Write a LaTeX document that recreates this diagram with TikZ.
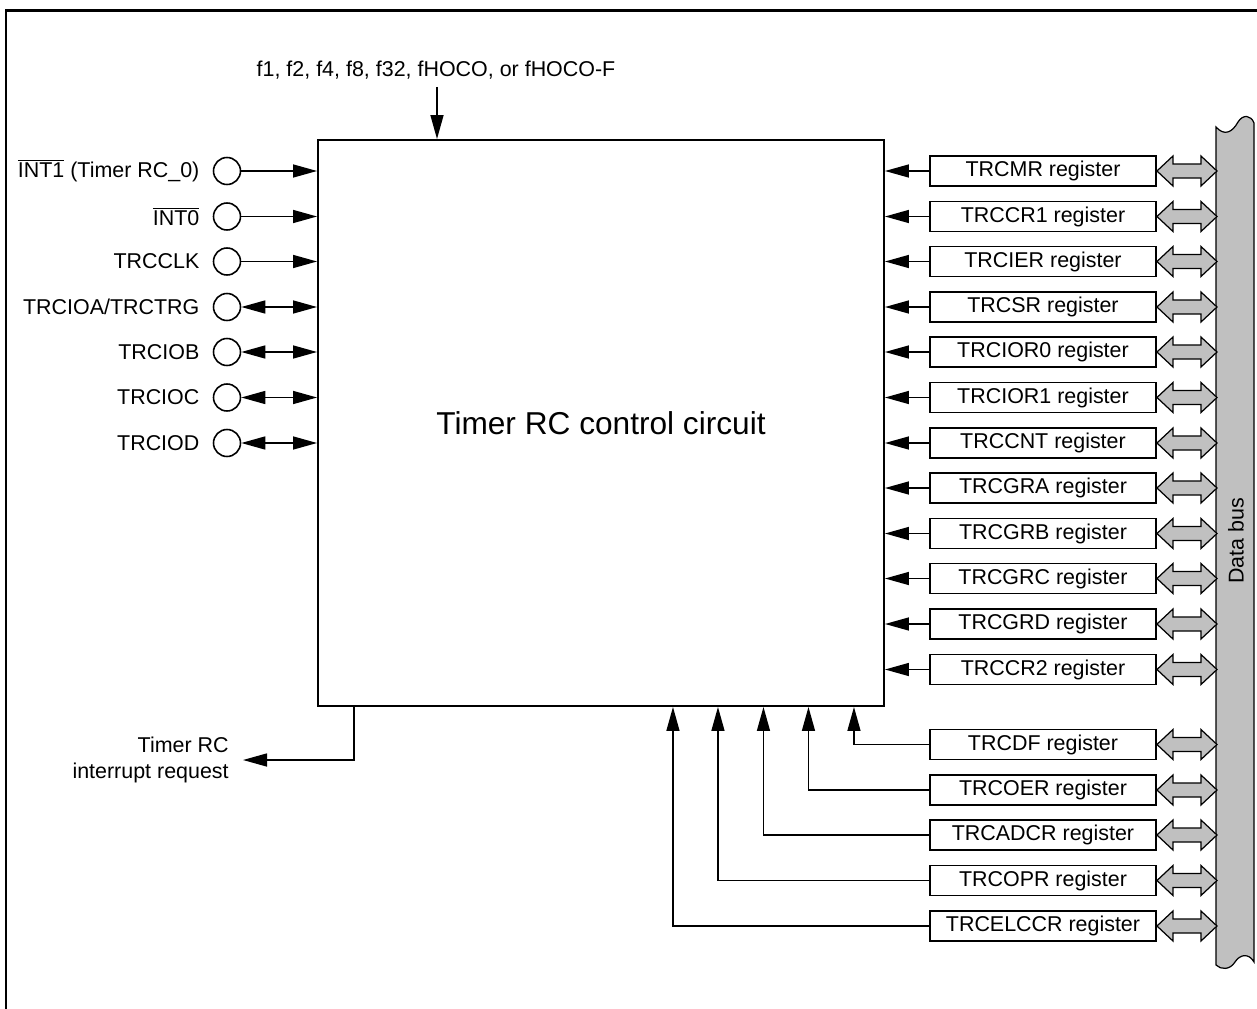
\documentclass[tikz,border=0pt]{standalone}
\usepackage{fontspec}
\setmainfont{Liberation Sans}
\usepackage{tikz}
\usetikzlibrary{arrows.meta, positioning}
\definecolor{busgray}{RGB}{192,192,192}
\newcommand{\busarrow}[1]{\draw[busline] (#1.east) -- ++(0.32,0.30) -- ++(0,-0.16)
  -- ++(0.56,0) -- ++(0,0.16) -- ++(0.32,-0.30) -- ++(-0.32,-0.30) -- ++(0,0.16)
  -- ++(-0.56,0) -- ++(0,-0.16) -- cycle;}

\begin{document}
\begin{tikzpicture}[
  lbl/.style={font=\fontsize{12.2}{14.6}\selectfont, inner sep=0pt},
  ctrlbox/.style={rectangle, draw, line width=1.1pt, minimum width=11.32cm,
                  minimum height=11.32cm, font=\fontsize{18}{22}\selectfont},
  reg/.style={rectangle, draw, line width=1.1pt, minimum width=4.52cm,
              minimum height=0.6cm, inner sep=0pt, font=\fontsize{12.2}{14.6}\selectfont},
  pin/.style={circle, draw, line width=0.9pt, minimum size=0.54cm, inner sep=0pt},
  arrow/.style={-{Triangle[length=0.48cm, width=0.26cm]}, line width=0.85pt},
  biarrow/.style={{Triangle[length=0.48cm, width=0.26cm]}-{Triangle[length=0.48cm, width=0.26cm]},
                  line width=0.85pt},
  busline/.style={draw, fill=busgray, line width=0.7pt, line join=miter},
]
\useasboundingbox (0,0) rectangle (25.14,-20.18);
\draw[line width=1.7pt] (0.12,-20.18) -- (0.12,-0.21) -- (25.14,-0.21);

% control circuit and clock input
\node[ctrlbox] (ctrl) at (12.02,-8.46) {Timer RC control circuit};
\node[lbl] (clk) at (8.72,-1.40) {f1, f2, f4, f8, f32, fHOCO, or fHOCO-F};
\coordinate (clkin) at (8.74,-1.74);
\draw[arrow] (clkin) -- (ctrl.north -| clkin);

% pins
\node[pin] (int1)  at (4.54,-3.42) {};
\node[pin] (int0)  at (4.54,-4.33) {};
\node[pin] (clkp)  at (4.54,-5.23) {};
\node[pin] (ioa)   at (4.54,-6.14) {};
\node[pin] (iob)   at (4.54,-7.04) {};
\node[pin] (ioc)   at (4.54,-7.95) {};
\node[pin] (iod)   at (4.54,-8.86) {};
\node[lbl, left=0.26cm of int1] {$\overline{\mbox{INT1}}$ (Timer RC\_0)};
\node[lbl, left=0.26cm of int0] {$\overline{\mbox{INT0}}$};
\node[lbl, left=0.26cm of clkp] {TRCCLK};
\node[lbl, left=0.26cm of ioa]  {TRCIOA/TRCTRG};
\node[lbl, left=0.26cm of iob]  {TRCIOB};
\node[lbl, left=0.26cm of ioc]  {TRCIOC};
\node[lbl, left=0.26cm of iod]  {TRCIOD};
\draw[arrow]   (int1) -- (ctrl.west |- int1);
\draw[arrow]   (int0) -- (ctrl.west |- int0);
\draw[arrow]   (clkp) -- (ctrl.west |- clkp);
\draw[biarrow] (ioa)  -- (ctrl.west |- ioa);
\draw[biarrow] (iob)  -- (ctrl.west |- iob);
\draw[biarrow] (ioc)  -- (ctrl.west |- ioc);
\draw[biarrow] (iod)  -- (ctrl.west |- iod);

% interrupt request
\node[lbl, align=right, anchor=east, inner xsep=0.28cm] (irq) at (4.86,-15.20)
  {Timer RC\\interrupt request};
\draw[arrow] ([xshift=0.74cm]ctrl.south west) |- (irq.east);

% registers on the right
\node[reg] (mr)    at (20.86,-3.42)  {TRCMR register};
\node[reg] (ccr1)  at (20.86,-4.33)  {TRCCR1 register};
\node[reg] (ier)   at (20.86,-5.23)  {TRCIER register};
\node[reg] (sr)    at (20.86,-6.14)  {TRCSR register};
\node[reg] (ior0)  at (20.86,-7.04)  {TRCIOR0 register};
\node[reg] (ior1)  at (20.86,-7.95)  {TRCIOR1 register};
\node[reg] (cnt)   at (20.86,-8.86)  {TRCCNT register};
\node[reg] (gra)   at (20.86,-9.76)  {TRCGRA register};
\node[reg] (grb)   at (20.86,-10.67) {TRCGRB register};
\node[reg] (grc)   at (20.86,-11.57) {TRCGRC register};
\node[reg] (grd)   at (20.86,-12.48) {TRCGRD register};
\node[reg] (ccr2)  at (20.86,-13.39) {TRCCR2 register};
\draw[arrow] (mr)   -- (ctrl.east |- mr);
\draw[arrow] (ccr1) -- (ctrl.east |- ccr1);
\draw[arrow] (ier)  -- (ctrl.east |- ier);
\draw[arrow] (sr)   -- (ctrl.east |- sr);
\draw[arrow] (ior0) -- (ctrl.east |- ior0);
\draw[arrow] (ior1) -- (ctrl.east |- ior1);
\draw[arrow] (cnt)  -- (ctrl.east |- cnt);
\draw[arrow] (gra)  -- (ctrl.east |- gra);
\draw[arrow] (grb)  -- (ctrl.east |- grb);
\draw[arrow] (grc)  -- (ctrl.east |- grc);
\draw[arrow] (grd)  -- (ctrl.east |- grd);
\draw[arrow] (ccr2) -- (ctrl.east |- ccr2);

% registers below
\node[reg] (df)    at (20.86,-14.89) {TRCDF register};
\node[reg] (oer)   at (20.86,-15.80) {TRCOER register};
\node[reg] (adcr)  at (20.86,-16.70) {TRCADCR register};
\node[reg] (opr)   at (20.86,-17.61) {TRCOPR register};
\node[reg] (elccr) at (20.86,-18.52) {TRCELCCR register};
\draw[arrow] (df.west)    -| ([xshift=-0.62cm]ctrl.south east);
\draw[arrow] (oer.west)   -| ([xshift=-1.53cm]ctrl.south east);
\draw[arrow] (adcr.west)  -| ([xshift=-2.43cm]ctrl.south east);
\draw[arrow] (opr.west)   -| ([xshift=-3.34cm]ctrl.south east);
\draw[arrow] (elccr.west) -| ([xshift=-4.24cm]ctrl.south east);

% data bus
\draw[busline] (24.32,-2.54) .. controls (24.48,-2.72) and (24.64,-2.66) .. (24.76,-2.44)
  .. controls (24.86,-2.28) and (25.02,-2.30) .. (25.08,-2.46) -- (25.08,-19.24)
  .. controls (24.98,-19.06) and (24.80,-19.08) .. (24.70,-19.24)
  .. controls (24.60,-19.40) and (24.42,-19.40) .. (24.32,-19.30) -- cycle;
\node[lbl, rotate=90] (bus) at (24.72,-10.82) {Data bus};
\busarrow{mr}   \busarrow{ccr1} \busarrow{ier}  \busarrow{sr}
\busarrow{ior0} \busarrow{ior1} \busarrow{cnt}  \busarrow{gra}
\busarrow{grb}  \busarrow{grc}  \busarrow{grd}  \busarrow{ccr2}
\busarrow{df}   \busarrow{oer}  \busarrow{adcr} \busarrow{opr}
\busarrow{elccr}
\end{tikzpicture}
\end{document}
